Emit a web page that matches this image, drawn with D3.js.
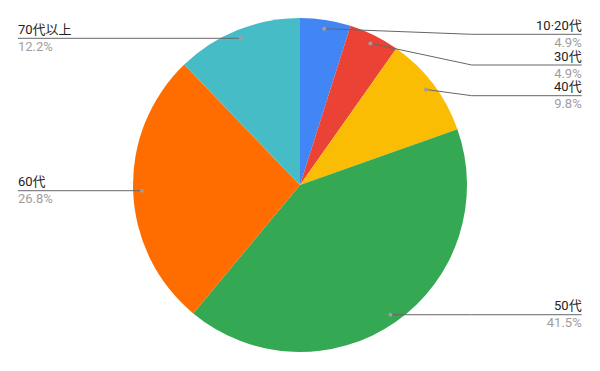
<!DOCTYPE html>
<html>
<head>
<meta charset="utf-8">
<script src="https://cdn.jsdelivr.net/npm/d3@7"></script>
<style>
  body { margin: 0; background: #fff; }
  svg { display: block; font-family: Roboto, "Noto Sans CJK JP", sans-serif; }
</style>
</head>
<body>
<div id="chart"></div>
<script>
// age groups and their share (%)
var categories = ["10·20代", "30代", "40代", "50代", "60代", "70代以上"]
var values = [4.9, 4.9, 9.8, 41.5, 26.8, 12.2]
var colors = ["#4285f4", "#ea4335", "#fbbc04", "#34a853", "#ff6d01", "#46bdc6"]

var
  WIDTH = 600,
  HEIGHT = 371,
  CX = 300,
  CY = 185,
  R = 167,
  DOT_R = R * 0.947,
  LABEL_GAP = 30.7,
  LABEL_TOP = 34.3,
  LEFT_X = 18,
  RIGHT_X = 581.7,
  ELBOW_X = CX + R + 4.7,
  FONT = 13

var svg = d3.select('#chart').append('svg')
  .attr('width', WIDTH)
  .attr('height', HEIGHT)

var data = categories.map(function(c, i) {
  return { name: c, value: values[i], color: colors[i] }
})

var pie = d3.pie().sort(null).value(function(d) { return d.value })
var arcs = pie(data)
var arc = d3.arc().innerRadius(0).outerRadius(R)
var dotArc = d3.arc().innerRadius(DOT_R).outerRadius(DOT_R)

var g = svg.append('g').attr('transform', 'translate(' + CX + ',' + CY + ')')

g.selectAll('path.slice')
  .data(arcs)
  .enter()
  .append('path')
  .attr('class', 'slice')
  .attr('d', arc)
  .attr('fill', function(d) { return d.data.color })

// label placement: push labels down so they don't overlap
arcs.forEach(function(d) {
  var c = dotArc.centroid(d)
  d.dx = CX + c[0]
  d.dy = CY + c[1]
  d.right = (d.startAngle + d.endAngle) / 2 < Math.PI
})

var prev = -Infinity
arcs.filter(function(d) { return d.right }).forEach(function(d) {
  d.ly = Math.max(d.dy, LABEL_TOP, prev + LABEL_GAP)
  prev = d.ly
})
prev = -Infinity
arcs.filter(function(d) { return !d.right }).sort(function(a, b) { return a.dy - b.dy }).forEach(function(d) {
  d.ly = Math.max(d.dy, LABEL_TOP, prev + LABEL_GAP)
  prev = d.ly
})

var labels = svg.append('g')

labels.selectAll('polyline')
  .data(arcs)
  .enter()
  .append('polyline')
  .attr('points', function(d) {
    if (d.right) return [[d.dx, d.dy], [ELBOW_X, d.ly], [RIGHT_X, d.ly]].join(' ')
    return [[d.dx, d.dy], [LEFT_X, d.ly]].join(' ')
  })
  .attr('fill', 'none')
  .attr('stroke', '#666')
  .attr('stroke-width', 1)

labels.selectAll('circle')
  .data(arcs)
  .enter()
  .append('circle')
  .attr('cx', function(d) { return d.dx })
  .attr('cy', function(d) { return d.dy })
  .attr('r', 2)
  .attr('fill', '#9e9e9e')

labels.selectAll('text.name')
  .data(arcs)
  .enter()
  .append('text')
  .attr('class', 'name')
  .attr('x', function(d) { return d.right ? RIGHT_X : LEFT_X })
  .attr('y', function(d) { return d.ly - 4.5 })
  .attr('text-anchor', function(d) { return d.right ? 'end' : 'start' })
  .attr('font-size', FONT)
  .attr('fill', '#222')
  .text(function(d) { return d.data.name })

labels.selectAll('text.pct')
  .data(arcs)
  .enter()
  .append('text')
  .attr('class', 'pct')
  .attr('x', function(d) { return d.right ? RIGHT_X : LEFT_X })
  .attr('y', function(d) { return d.ly + 12.5 })
  .attr('text-anchor', function(d) { return d.right ? 'end' : 'start' })
  .attr('font-size', FONT)
  .attr('fill', '#9e9e9e')
  .text(function(d) { return d.data.value.toFixed(1) + '%' })
</script>
</body>
</html>
